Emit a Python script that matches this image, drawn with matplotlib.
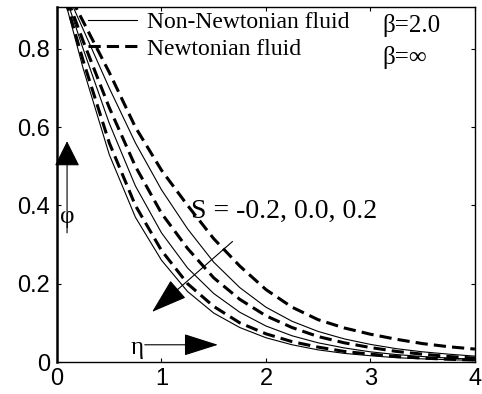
import numpy as np
import matplotlib
matplotlib.use("Agg")
import matplotlib.pyplot as plt

# eta grid and concentration profiles
eta = [0.0, 0.25, 0.5, 0.75, 1.0, 1.25, 1.5, 1.75, 2.0,
       2.25, 2.5, 2.75, 3.0, 3.25, 3.5, 3.75, 4.0]

# non-Newtonian (beta = 2.0), S = 0.2, 0.0, -0.2
phi_nn_s02 = [1.0, 0.75, 0.53, 0.37, 0.26, 0.18, 0.125, 0.088, 0.062,
              0.044, 0.031, 0.022, 0.016, 0.011, 0.008, 0.006, 0.004]
phi_nn_s00 = [1.0, 0.80, 0.61, 0.45, 0.33, 0.24, 0.175, 0.127, 0.092,
              0.067, 0.049, 0.036, 0.026, 0.019, 0.014, 0.010, 0.007]
phi_nn_sm02 = [1.0, 0.85, 0.70, 0.56, 0.44, 0.34, 0.255, 0.19, 0.14,
               0.104, 0.078, 0.059, 0.045, 0.034, 0.026, 0.020, 0.015]

# Newtonian (beta = inf), S = 0.2, 0.0, -0.2
phi_n_s02 = [1.0, 0.77, 0.56, 0.40, 0.285, 0.20, 0.142, 0.10, 0.072,
             0.052, 0.038, 0.027, 0.020, 0.014, 0.010, 0.007, 0.005]
phi_n_s00 = [1.0, 0.82, 0.65, 0.50, 0.38, 0.29, 0.215, 0.16, 0.118,
             0.088, 0.065, 0.049, 0.037, 0.027, 0.020, 0.014, 0.010]
phi_n_sm02 = [1.0, 0.87, 0.74, 0.60, 0.49, 0.40, 0.315, 0.245, 0.185,
              0.14, 0.108, 0.087, 0.071, 0.058, 0.047, 0.039, 0.033]

legend_labels = ["Non-Newtonian fluid", "Newtonian fluid"]
beta_labels = ["\u03b2=2.0", "\u03b2=\u221e"]
s_label = "S = -0.2, 0.0, 0.2"

serif = ["Liberation Serif", "DejaVu Serif"]
plt.rcParams["font.family"] = ["Liberation Sans", "DejaVu Sans"]

fig = plt.figure(figsize=(4.82, 3.94), dpi=100)
ax = fig.add_axes([0.1183, 0.0812, 0.867, 0.901])

thin = dict(color="black", lw=0.8)
dash = dict(color="black", lw=2.2, dashes=(4, 2))

l1, = ax.plot(eta, phi_nn_s02, **thin)
ax.plot(eta, phi_nn_s00, **thin)
ax.plot(eta, phi_nn_sm02, **thin)
l2, = ax.plot(eta, phi_n_s02, **dash)
ax.plot(eta, phi_n_s00, **dash)
ax.plot(eta, phi_n_sm02, **dash)

ax.set_xlim(0, 4)
ax.set_ylim(0, 0.907)
ax.set_xticks([0, 1, 2, 3, 4])
ax.set_yticks([0, 0.2, 0.4, 0.6, 0.8])
ax.set_yticklabels(["0", "0.2", "0.4", "0.6", "0.8"])
ax.tick_params(direction="in", length=3, width=0.8, top=True, right=True,
               labelsize=17)
ax.tick_params(axis="x", pad=4)
ax.tick_params(axis="y", pad=5)
for side in ["top", "right", "bottom"]:
    ax.spines[side].set_linewidth(1.0)
ax.spines["left"].set_linewidth(1.8)

leg = ax.legend([l1, l2], legend_labels, loc="upper left",
                bbox_to_anchor=(0.074, 0.988), frameon=False,
                prop={"family": serif, "size": 17}, handlelength=2.07,
                handletextpad=0.42, labelspacing=0.22, borderpad=0,
                borderaxespad=0)

ax.text(0.778, 0.947, beta_labels[0], transform=ax.transAxes,
        family=serif, fontsize=18, va="center", ha="left")
ax.text(0.778, 0.858, beta_labels[1], transform=ax.transAxes,
        family=serif, fontsize=18, va="center", ha="left")

# phi arrow (vertical)
ax.annotate("", xy=(0.096, 0.564), xytext=(0.096, 0.33),
            arrowprops=dict(arrowstyle="-|>,head_length=1.6,head_width=0.8",
                            mutation_scale=10, lw=0.8, color="black",
                            shrinkA=0, shrinkB=0))
ax.text(0.10, 0.37, "\u03c6", family=serif, fontsize=18,
        ha="center", va="center")

# eta arrow (horizontal)
ax.annotate("", xy=(1.54, 0.044), xytext=(0.84, 0.044),
            arrowprops=dict(arrowstyle="-|>,head_length=2.2,head_width=0.7",
                            mutation_scale=10, lw=0.8, color="black",
                            shrinkA=0, shrinkB=0))
ax.text(0.77, 0.035, "\u03b7", family=serif, fontsize=18,
        ha="center", va="center")

# S arrow (diagonal)
ax.annotate("", xy=(0.91, 0.128), xytext=(1.68, 0.308),
            arrowprops=dict(arrowstyle="-|>,head_length=2.3,head_width=0.75",
                            mutation_scale=10, lw=0.8, color="black",
                            shrinkA=0, shrinkB=0))
ax.text(1.28, 0.385, s_label, family=serif, fontsize=20,
        ha="left", va="center")

fig.savefig("out.png", dpi=100)
